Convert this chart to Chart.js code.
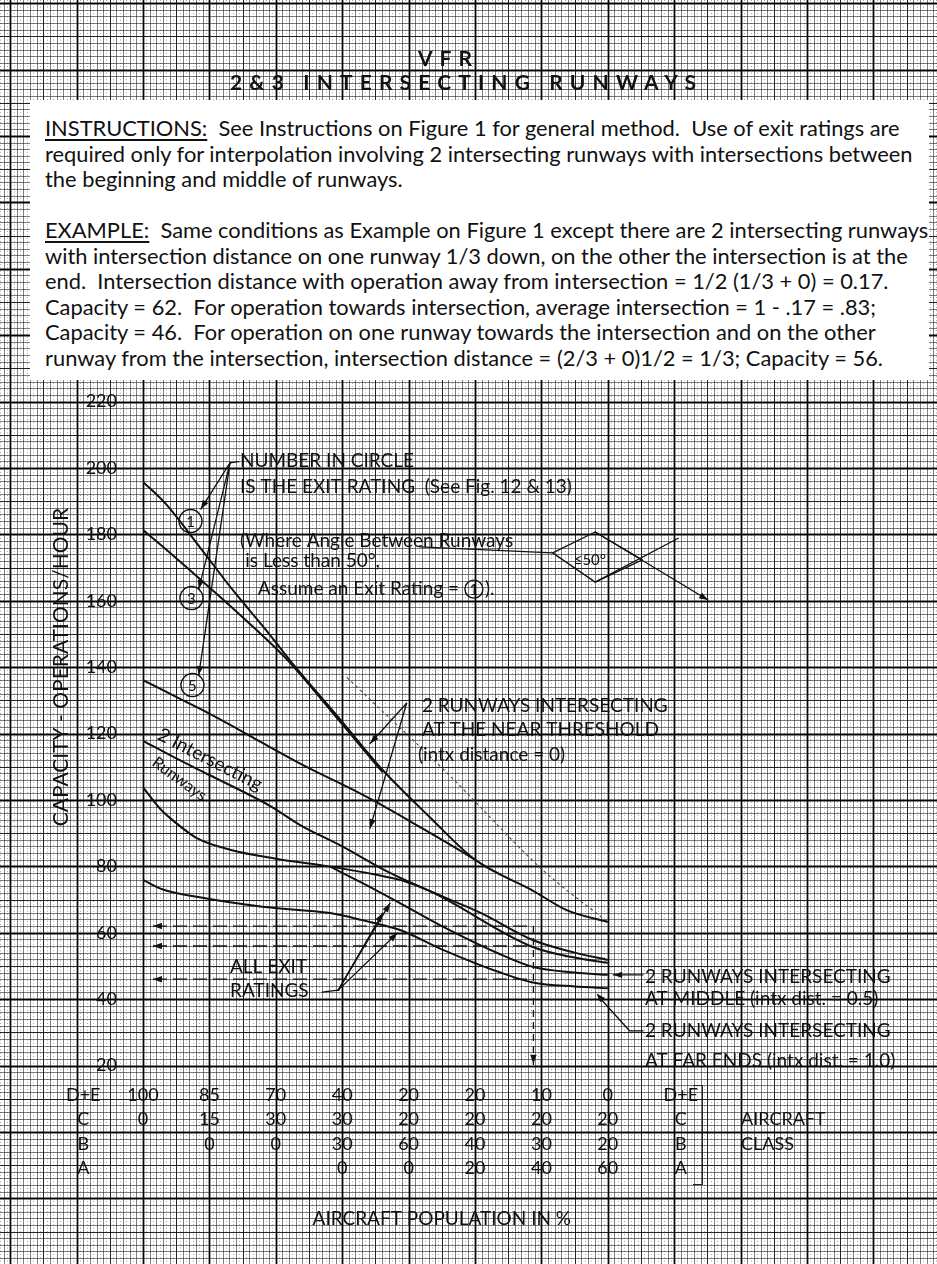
<!DOCTYPE html>
<html lang="en">
<head>
<meta charset="utf-8">
<title>VFR - 2 &amp; 3 intersecting runways</title>
<script src="https://cdn.jsdelivr.net/npm/chart.js@4.4.1/dist/chart.umd.min.js"></script>
<style>
  html, body { margin: 0; background: #fff; }
  #page { position: relative; width: 937px; height: 1264px; overflow: hidden;
          font-family: Lato, "Open Sans", sans-serif; color: #111; }
  #chart { position: absolute; left: 0; top: 0; }
  .head { position: absolute; font-weight: bold; font-size: 21px; line-height: 22px; white-space: nowrap; }
  #note { position: absolute; left: 30px; top: 100px; width: 899px; height: 280px; background: #fff;
          padding: 15px 0 0 15px; box-sizing: border-box; }
  #note div { white-space: pre; font-size: 20px; line-height: 25.5px; height: 25.5px; }
  #note u { text-decoration-thickness: 2px; text-underline-offset: 3px; }
  .cls { position: absolute; left: 741px; font-size: 18px; line-height: 20px; }
  #bracket { position: absolute; left: 693px; top: 1085px; width: 9px; height: 98px;
             border: 1.5px solid #222; border-left: none; }
</style>
</head>
<body>
<div id="page">
  <canvas id="chart" width="937" height="1264"></canvas>
  <div class="head" id="h1" style="top:47px">VFR</div>
  <div class="head" id="h2" style="top:71px">2&amp;3 INTERSECTING RUNWAYS</div>
  <div id="note">
    <div><span><u>INSTRUCTIONS:</u>  See Instructions on Figure 1 for general method.  Use of exit ratings are</span></div>
    <div><span>required only for interpolation involving 2 intersecting runways with intersections between</span></div>
    <div><span>the beginning and middle of runways.</span></div>
    <div><span> </span></div>
    <div><span><u>EXAMPLE:</u>  Same conditions as Example on Figure 1 except there are 2 intersecting runways</span></div>
    <div><span>with intersection distance on one runway 1/3 down, on the other the intersection is at the</span></div>
    <div><span>end.  Intersection distance with operation away from intersection = 1/2 (1/3 + 0) = 0.17.</span></div>
    <div><span>Capacity = 62.  For operation towards intersection, average intersection = 1 - .17 = .83;</span></div>
    <div><span>Capacity = 46.  For operation on one runway towards the intersection and on the other</span></div>
    <div><span>runway from the intersection, intersection distance = (2/3 + 0)1/2 = 1/3; Capacity = 56.</span></div>
  </div>
  <div class="cls" style="top:1108px">AIRCRAFT</div>
  <div class="cls" style="top:1133px">CLASS</div>
  <div id="bracket"></div>
</div>
<script>
const INK = '#111';

// aircraft mix under each column (%)
const classNames = ['D+E', 'C', 'B', 'A'];
const mixDE = ['100', '85', '70', '40', '20', '20', '10', '0'];
const mixC  = ['0', '15', '30', '30', '20', '20', '20', '20'];
const mixB  = ['', '0', '0', '30', '60', '40', '30', '20'];
const mixA  = ['', '', '', '0', '0', '20', '40', '60'];

// curves as [column, operations/hour]
const nearExit1 = [[0, 195.8], [0.35, 189], [0.86, 176], [1.36, 163], [1.86, 151], [2.21, 142.1], [3, 123.5],
                   [3.61, 109], [4.32, 94.8], [5, 82], [5.87, 72.7], [6.38, 66.8], [7, 63.2]];
const nearExit3 = [[0, 181.3], [0.5, 172.8], [1, 164], [1.5, 155], [2.21, 141.4], [3, 122.8], [3.61, 108.3]];
const nearExit5 = [[0, 136.1], [0.5, 131], [1, 126], [1.5, 120.5], [2.36, 111], [3.37, 100.9], [4.2, 91.5],
                   [4.92, 83], [5, 82]];
const nearFaint = [[3.07, 136.9], [4.62, 107.3], [6.02, 78.9], [7, 63.2]];
const twoRunways = [[0, 117.8], [0.5, 112.5], [1, 107.5], [1.93, 98], [2.36, 92.5], [3, 86], [3.72, 78],
                    [4.5, 71], [5.1, 65.8], [5.87, 57.8], [6.5, 54], [7, 51.8]];
const upperMid = [[0, 103.8], [0.25, 97.5], [0.5, 93], [0.81, 88.5], [1.31, 85], [2, 82.3], [2.82, 79.9],
                  [3.5, 77.5], [3.87, 75.9], [4.32, 72.5], [5.87, 55.7], [6.5, 52.5], [7, 50.9]];
const middle = [[2.82, 79.9], [3.3, 75], [3.87, 68.9], [4.5, 62], [5.38, 53.5], [5.87, 49.7], [6.5, 48], [7, 47.3]];
const farEnds = [[0, 75.9], [0.3, 73], [0.81, 70.8], [1.8, 67.8], [2.82, 65.9], [3.3, 63.8], [3.87, 60.8],
                 [4.5, 55], [5.38, 48], [5.87, 45], [6.5, 43.8], [7, 43.3]];

// worked example readings
const exampleCaps = [62, 56, 46];
const exampleMix = 5.88;

const rowTicks = [-0.9, 0, 1, 2, 3, 4, 5, 6, 7, 8.1];

const curve = (pts, extra) => Object.assign({
  data: pts.map(([x, y]) => ({x, y})),
  borderColor: INK, borderWidth: 2, pointRadius: 0, fill: false,
  cubicInterpolationMode: 'monotone'
}, extra);

const straight = (pts, dash) => ({
  data: pts.map(([x, y]) => ({x, y})),
  borderColor: INK, borderWidth: 1.3, pointRadius: 0, fill: false, tension: 0, borderDash: dash
});

// graph paper, laid out on the chart's own scales
const paper = {
  id: 'paper',
  beforeDraw(chart) {
    const {ctx, width, height, scales: {x, y}} = chart;
    ctx.save();
    ctx.fillStyle = '#fff';
    ctx.fillRect(0, 0, width, height);
    // faint dotted half steps
    ctx.strokeStyle = 'rgba(0,0,0,0.35)';
    ctx.lineWidth = 1;
    ctx.setLineDash([1, 2.3]);
    ctx.beginPath();
    for (let k = -60; k <= 260; k += 2) {
      const px = Math.round(x.getPixelForValue((k + 1) / 20)) + 0.5;
      if (px < -2 || px > width + 2) continue;
      ctx.moveTo(px, 0); ctx.lineTo(px, height);
    }
    ctx.stroke();
    ctx.setLineDash([]);
    const tiers = [[1, 'rgba(0,0,0,0.5)', 1], [5, 'rgba(0,0,0,0.72)', 1], [10, 'rgba(0,0,0,0.92)', 1.8]];
    for (const [every, color, lw] of tiers) {
      ctx.strokeStyle = color;
      ctx.lineWidth = lw;
      ctx.beginPath();
      for (let k = -30; k <= 130; k += every) {
        const px = Math.round(x.getPixelForValue(k / 10)) + 0.5;
        if (px < -2 || px > width + 2) continue;
        ctx.moveTo(px, 0); ctx.lineTo(px, height);
      }
      for (let k = -30; k <= 180; k += every) {
        const py = Math.round(y.getPixelForValue(k * 2)) + 0.5;
        if (py < -2 || py > height + 2) continue;
        ctx.moveTo(0, py); ctx.lineTo(width, py);
      }
      ctx.stroke();
    }
    ctx.restore();
  }
};

// hand lettering, leaders and arrows of the sheet
const notes = {
  id: 'notes',
  afterDatasetsDraw(chart) {
    const {ctx, scales: {x, y}} = chart;
    const P = (u, v) => [x.getPixelForValue(u), y.getPixelForValue(v)];
    ctx.save();
    ctx.fillStyle = INK;
    ctx.strokeStyle = INK;
    ctx.lineCap = 'round';
    ctx.lineJoin = 'round';

    const say = (s, u, v, size = 19, align = 'left') => {
      const [px, py] = P(u, v);
      ctx.font = size + 'px Lato, sans-serif';
      ctx.textAlign = align;
      ctx.textBaseline = 'middle';
      ctx.fillText(s, px, py);
      return [px + ctx.measureText(s).width, py];
    };
    const tilt = (s, u, v, deg, size, align = 'left', base = 'alphabetic') => {
      const [px, py] = P(u, v);
      ctx.save();
      ctx.translate(px, py);
      ctx.rotate(deg * Math.PI / 180);
      ctx.font = size + 'px Lato, sans-serif';
      ctx.textAlign = align;
      ctx.textBaseline = base;
      ctx.fillText(s, 0, 0);
      ctx.restore();
    };
    const path = (pts, lw = 1.3) => {
      ctx.lineWidth = lw;
      ctx.beginPath();
      pts.forEach(([u, v], i) => {
        const [px, py] = P(u, v);
        if (i) ctx.lineTo(px, py); else ctx.moveTo(px, py);
      });
      ctx.stroke();
    };
    const head = (from, to, len = 9, half = 3.2) => {
      const [x0, y0] = P(...from), [x1, y1] = P(...to);
      const a = Math.atan2(y1 - y0, x1 - x0);
      ctx.beginPath();
      ctx.moveTo(x1, y1);
      ctx.lineTo(x1 - len * Math.cos(a) + half * Math.sin(a), y1 - len * Math.sin(a) - half * Math.cos(a));
      ctx.lineTo(x1 - len * Math.cos(a) - half * Math.sin(a), y1 - len * Math.sin(a) + half * Math.cos(a));
      ctx.closePath();
      ctx.fill();
    };
    const arrow = (from, to) => { path([from, to]); head(from, to); };
    const ringAt = (label, px, py, r = 11.5) => {
      ctx.lineWidth = 1.4;
      ctx.beginPath();
      ctx.arc(px, py, r, 0, Math.PI * 2);
      ctx.stroke();
      ctx.font = '15px Lato, sans-serif';
      ctx.textAlign = 'center';
      ctx.textBaseline = 'middle';
      ctx.fillText(label, px, py + 1);
    };

    // y axis title
    tilt('CAPACITY - OPERATIONS/HOUR', -1.235, 140, -90, 21, 'center', 'middle');

    // exit rating key
    say('NUMBER IN CIRCLE', 1.46, 202.1);
    say('IS THE EXIT RATING  (See Fig. 12 & 13)', 1.46, 194.2);
    say('(Where Angle Between Runways', 1.46, 178.0);
    say('is Less than 50\u00b0,', 1.54, 172.0);
    const [ex, ey] = say('Assume an Exit Rating = ', 1.73, 163.5);
    ringAt('1', ex + 10, ey, 9);
    ctx.font = '19px Lato, sans-serif';
    ctx.textAlign = 'left';
    ctx.fillText(').', ex + 21, ey);
    path([[1.31, 201.5], [1.44, 201.9]]);
    ringAt('1', ...P(0.715, 184.0));
    ringAt('3', ...P(0.73, 160.8));
    ringAt('5', ...P(0.745, 134.6));
    arrow([1.31, 201.5], [0.87, 187.6]);
    arrow([1.31, 201.5], [0.84, 163.5]);
    arrow([1.31, 201.5], [0.84, 137.6]);

    // runway angle sketch
    path([[4.17, 176.2], [6.17, 174.4]]);
    path([[6.17, 174.4], [6.81, 180.7], [7.52, 172.3], [6.81, 165.6], [6.17, 174.4]]);
    path([[6.81, 165.6], [8.06, 178.8]]);
    arrow([6.81, 180.7], [8.51, 160.2]);
    say('\u226450\u00b0', 6.73, 172.3, 15, 'center');

    // near threshold family
    say('2 RUNWAYS INTERSECTING', 4.20, 128.3);
    say('AT THE NEAR THRESHOLD', 4.20, 121.1);
    say('(intx distance = 0)', 4.14, 113.5);
    arrow([3.97, 129.1], [3.42, 117]);
    arrow([3.97, 129.1], [3.42, 91.5]);

    tilt('2 Intersecting', 0.2, 118.4, 27, 19);
    tilt('Runways', 0.12, 110.6, 36, 16);

    // all exit ratings
    say('ALL EXIT', 1.31, 49.7);
    say('RATINGS', 1.31, 42.4);
    path([[2.70, 42.1], [2.94, 42.7]]);
    arrow([2.94, 42.7], [3.61, 65.9]);
    arrow([2.94, 42.7], [3.72, 68.9]);
    arrow([2.94, 42.7], [3.83, 59.9]);

    // right hand labels
    say('2 RUNWAYS INTERSECTING', 7.56, 46.7);
    say('AT MIDDLE (intx dist. = 0.5)', 7.56, 40.0);
    arrow([7.53, 47.3], [7.08, 47.3]);
    say('2 RUNWAYS INTERSECTING', 7.56, 30.4);
    say('AT FAR ENDS (intx dist. = 1.0)', 7.56, 21.4);
    path([[7.53, 30.4], [7.33, 30.4], [6.86, 40.8]]);
    head([7.33, 30.4], [6.83, 41.7]);

    // arrowheads on the example read-offs
    exampleCaps.forEach(c => head([0.5, c], [0.15, c]));
    head([exampleMix, 30], [exampleMix, 20.5]);

    ctx.restore();
  }
};

const datasets = [
  curve(nearExit1),
  curve(nearExit3),
  curve(nearExit5),
  curve(nearFaint, {borderWidth: 1.2, borderColor: '#555', borderDash: [3, 3]}),
  curve(twoRunways),
  curve(upperMid),
  curve(middle),
  curve(farEnds),
  ...exampleCaps.map(c => straight([[0.15, c], [exampleMix, c]], [14, 6])),
  straight([[exampleMix, exampleCaps[0]], [exampleMix, 20]], [7, 5])
];

const tickFont = {family: 'Lato, sans-serif', size: 18, lineHeight: 1.367};

new Chart(document.getElementById('chart'), {
  type: 'line',
  data: {datasets},
  options: {
    responsive: false,
    animation: false,
    events: [],
    layout: {padding: {top: 401.5, right: 196.4, bottom: 0, left: 0}},
    plugins: {legend: {display: false}, tooltip: {enabled: false}},
    scales: {
      x: {
        type: 'linear', min: 0, max: 9,
        grid: {display: false, drawTicks: false},
        border: {display: false},
        afterBuildTicks: s => { s.ticks = rowTicks.map(v => ({value: v})); },
        afterFit: s => { s.height = 198.5; s.paddingLeft = 0; s.paddingRight = 0; },
        ticks: {
          autoSkip: false, maxRotation: 0, padding: 17, color: INK, font: tickFont,
          callback: (v, i) => (i === 0 || i === rowTicks.length - 1)
            ? classNames
            : [mixDE[i - 1], mixC[i - 1], mixB[i - 1], mixA[i - 1]]
        },
        title: {
          display: true, text: 'AIRCRAFT POPULATION IN %', color: INK,
          font: {family: 'Lato, sans-serif', size: 19}, padding: {top: 0, bottom: 33.5}
        }
      },
      y: {
        min: 20, max: 220,
        grid: {display: false, drawTicks: false},
        border: {display: false},
        afterFit: s => { s.width = 143; s.paddingTop = 0; s.paddingBottom = 0; },
        ticks: {stepSize: 20, padding: 26, color: INK, font: {family: 'Lato, sans-serif', size: 18}}
      }
    }
  },
  plugins: [paper, notes]
});

// letter-spaced heading and the instruction block sizing
function spreadTo(el, target, centre) {
  el.style.letterSpacing = '0px';
  const w = el.getBoundingClientRect().width;
  const n = el.textContent.length;
  el.style.letterSpacing = ((target - w) / (n - 1)) + 'px';
  el.style.left = (centre - target / 2) + 'px';
}
spreadTo(document.getElementById('h1'), 54, 445);
spreadTo(document.getElementById('h2'), 466, 463);

const lines = document.querySelectorAll('#note div');
const firstW = lines[0].querySelector('span').getBoundingClientRect().width;
const fs = 20 * 855 / firstW;
lines.forEach(d => { d.style.fontSize = fs + 'px'; });
</script>
</body>
</html>
